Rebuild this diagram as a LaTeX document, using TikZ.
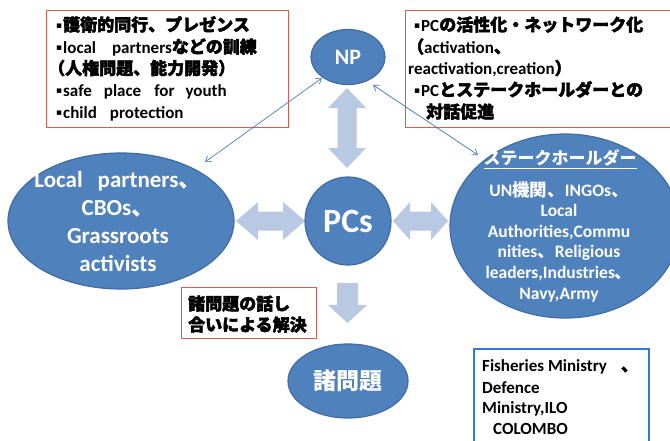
\documentclass[tikz,border=0pt]{standalone}
\usepackage{fontspec}
\setmainfont{Carlito}
\newfontfamily\jp{Noto Sans CJK JP}[FakeBold=2.2]
\newfontfamily\jpw{Noto Sans CJK JP}
\newfontfamily\dv{DejaVu Sans}
\usetikzlibrary{arrows.meta,shapes.geometric}
\definecolor{ellfill}{HTML}{4F81BD}
\definecolor{elldraw}{HTML}{3F6DA3}
\definecolor{barrow}{HTML}{B9C9E3}
\definecolor{redc}{HTML}{DB5A57}
\definecolor{bluec}{HTML}{2E7CCB}
\definecolor{thinc}{HTML}{4A7EBB}
\newcommand\J[1]{{\jp #1}}
\newcommand\JW[1]{{\jpw #1}}
\newcommand\bul{\makebox[7pt][l]{\raisebox{2.5pt}{\dv\fontsize{9}{9}\selectfont ▪}}}
\begin{document}
\begin{tikzpicture}[x=1pt,y=-1pt,
  ell/.style={ellipse,fill=ellfill,draw=elldraw,line width=1.2pt,inner sep=0pt},
  etext/.style={text=white,font=\bfseries,inner sep=0pt},
  redbox/.style={draw=redc,line width=0.9pt,inner sep=0pt,anchor=north west},
  bluebox/.style={draw=bluec,line width=1.6pt,inner sep=0pt,anchor=north west},
  ln/.style={anchor=base west,inner sep=0pt,font=\bfseries\fontsize{17}{20}\selectfont},
  blk/.style={fill=barrow},
  thinarrow/.style={draw=thinc,line width=0.7pt,{Straight Barb[length=5pt,width=7pt]}-{Straight Barb[length=5pt,width=7pt]}}]
\useasboundingbox (0,0) rectangle (670,440);
\fill[white] (0,0) rectangle (670,440);

% boxes
\node[redbox,minimum width=242pt,minimum height=117pt] (boxL) at (46,10) {};
\node[redbox,minimum width=268pt,minimum height=117pt] (boxR) at (405,10) {};
\node[redbox,minimum width=135pt,minimum height=51pt] (boxB) at (181,287) {};
\node[bluebox,minimum width=175pt,minimum height=100pt] (boxG) at (473,348) {};

% top-left box text
\node[ln] (l1) at (56,31) {\bul\J{護衛的同行、プレゼンス}};
\node[ln] (l2) at (56,53) {\bul local\hspace{16pt}partners\J{などの訓練}};
\node[ln] (l3) at (48,74.5) {\J{（人権問題、能力開発）}};
\node[ln] (l4) at (56,96) {\bul safe\hspace{12pt}place\hspace{13pt}for\hspace{11pt}youth};
\node[ln] (l5) at (56,118) {\bul child\hspace{13pt}protection};

% top-right box text
\node[ln] (r1) at (414,31) {\bul PC\J{の活性化・ネットワーク化}};
\node[ln] (r2) at (407,53) {\J{（}activation\J{、}};
\node[ln] (r3) at (408,74.5) {reactivation,creation\J{）}};
\node[ln] (r4) at (414,96) {\bul PC\J{とステークホールダーとの}};
\node[ln] (r5) at (426,118) {\J{対話促進}};

% bottom red box text
\node[ln] (b1) at (188,310) {\J{諸問題の話し}};
\node[ln] (b2) at (188,331) {\J{合いによる解決}};

% blue box text
\node[ln] (g1) at (482,371) {Fisheries Ministry\hspace{14pt}\J{、}};
\node[ln] (g2) at (482,393) {Defence};
\node[ln] (g3) at (482,413) {Ministry,ILO};
\node[ln] (g4) at (493,434) {COLOMBO};

% block arrows
\fill[blk] (347,88) -- (366,108) -- (356.5,108) -- (356.5,148) -- (366,148) -- (347,168) -- (328,148) -- (337.5,148) -- (337.5,108) -- (328,108) -- cycle;
\fill[blk] (236,221) -- (258,202) -- (258,211.5) -- (283,211.5) -- (283,202) -- (305,221) -- (283,240) -- (283,230.5) -- (258,230.5) -- (258,240) -- cycle;
\fill[blk] (393,221) -- (410,202) -- (410,211.5) -- (431,211.5) -- (431,202) -- (448,221) -- (431,240) -- (431,230.5) -- (410,230.5) -- (410,240) -- cycle;
\fill[blk] (337,283) -- (358,283) -- (358,305) -- (367,305) -- (347.5,323) -- (328,305) -- (337,305) -- cycle;

% ellipses
\node[ell,minimum width=74pt,minimum height=55pt] (np) at (348,57) {};
\node[ell,minimum width=86pt,minimum height=88pt] (pcs) at (348,221) {};
\node[ell,minimum width=226pt,minimum height=136pt] (lp) at (121,221) {};
\node[ell,minimum width=230pt,minimum height=184pt] (sh) at (565,226) {};
\node[ell,minimum width=120pt,minimum height=74pt] (iss) at (348,381) {};

\node[etext,font=\bfseries\fontsize{22}{22}\selectfont] (npt) at (np.center) {NP};
\node[etext,font=\bfseries\fontsize{34}{34}\selectfont] (pcst) at (pcs.center) {PCs};
\node[etext,font=\bfseries\fontsize{23}{23}\selectfont] (isst) at (iss.center) {\JW{諸問題}};
\node[etext,align=center,font=\bfseries\fontsize{23}{27.7}\selectfont] (lpt) at (118,221.5) {Local\hspace{15pt}partners\JW{、}\\CBOs\JW{、}\\Grassroots\\activists};
\node[etext,font=\bfseries\fontsize{17}{17}\selectfont] (sht) at (560,159) {\underline{\JW{ステークホールダー}}};
\node[etext,align=center,font=\bfseries\fontsize{17.5}{20.6}\selectfont] (shb) at (559,241.5) {UN\JW{機関、}INGOs\JW{、}\\Local\\Authorities,Commu\\nities\JW{、}Religious\\leaders,Industries\JW{、}\\Navy,Army};

% thin connectors
\coordinate (a1) at (322,78);
\coordinate (a2) at (205,162);
\coordinate (a3) at (373,85);
\coordinate (a4) at (478,155);
\draw[thinarrow] (a1) -- (a2);
\draw[thinarrow] (a3) -- (a4);
\end{tikzpicture}
\end{document}
